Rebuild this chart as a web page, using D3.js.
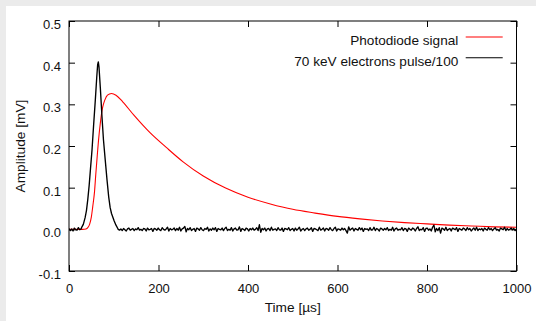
<!DOCTYPE html>
<html>
<head>
<meta charset="utf-8">
<script src="https://cdn.jsdelivr.net/npm/d3@7"></script>
<style>
  html, body { margin: 0; padding: 0; background: #ebebeb; }
  svg { display: block; }
  text { font-family: "Liberation Sans", Arial, Helvetica, sans-serif; fill: #111; }
</style>
</head>
<body>
<svg id="chart" width="536" height="321"></svg>
<script>
// ---------- data ----------
const xTicks = [0, 200, 400, 600, 800, 1000];
const yTicks = [-0.1, 0.0, 0.1, 0.2, 0.3, 0.4, 0.5];
const yTickLabels = ["-0.1", "0.0", "0.1", "0.2", "0.3", "0.4", "0.5"];
const seriesNames = ["Photodiode signal", "70 keV electrons pulse/100"];
const seriesColors = ["#ff0000", "#000000"];

// Photodiode signal (time in µs, amplitude in mV)
const redTime = [0, 30, 38, 42, 46, 50, 53, 57, 60, 63, 66, 70, 75, 80, 86, 95, 105, 120, 145, 181, 218, 255, 300, 350, 400, 450, 500, 550, 600, 650, 700, 750, 800, 850, 900, 950, 1000];
const redValue = [0, 0, 0.001, 0.004, 0.012, 0.03, 0.054, 0.09, 0.134, 0.175, 0.214, 0.255, 0.292, 0.31, 0.322, 0.326, 0.322, 0.306, 0.274, 0.232, 0.196, 0.162, 0.128, 0.099, 0.077, 0.061, 0.048, 0.039, 0.031, 0.025, 0.02, 0.016, 0.013, 0.01, 0.008, 0.006, 0.005];

// Electron pulse /100: pre-trigger noise (0..27 µs), pulse, post-pulse noise (110..1000 µs); noise in 0.001 mV
const preNoise = [2, -3, 1, -4, 3, -1, -2, 4, -1, 1];
const pulseTime = [28, 32, 36, 39, 42, 45, 48, 51.4, 55, 58.8, 62, 64, 65.5, 67, 70, 73.7, 77, 81, 85, 88.7, 92, 95, 97.6, 101, 105, 109];
const pulseValue = [0.004, 0.012, 0.028, 0.045, 0.072, 0.105, 0.145, 0.19, 0.25, 0.31, 0.365, 0.395, 0.402, 0.39, 0.34, 0.27, 0.215, 0.166, 0.118, 0.078, 0.052, 0.038, 0.03, 0.02, 0.01, 0.002];
const postNoise = [
  0,-2,1,-3,2,-1,-4,1,3,-2,0,2,-3,1,-1,4,-2,0,-3,2,
  1,-4,3,-1,0,2,-5,2,1,-2,3,-1,-3,4,0,-2,1,5,-4,2,
  -1,0,3,-3,2,-2,5,-4,1,3,7,-6,2,-1,4,-3,0,2,-5,3,
  1,-2,4,-1,-3,2,0,5,-4,1,-2,3,-1,4,-5,2,0,-1,3,-3,
  2,5,-3,0,-2,4,-4,1,3,-2,-1,6,-5,2,0,-3,3,1,-4,2,
  -1,3,-2,0,4,-3,11,-7,2,-1,3,-4,1,2,-3,5,-2,0,1,-3,
  4,-1,-2,3,-5,2,1,-1,4,-3,0,2,-4,3,-2,1,5,-4,0,2,
  -3,1,3,-2,0,4,-5,2,1,-1,-3,5,-2,0,3,-4,2,1,-2,4,
  -1,-3,2,5,-4,1,0,-2,3,-1,2,-3,-9,6,-2,1,3,-4,2,0,
  -2,4,-1,3,-5,2,0,1,-3,4,-2,-1,5,-3,2,0,-4,3,1,-2,
  2,-1,4,-3,0,-2,5,-4,1,3,-2,0,-1,4,-3,2,1,-5,3,0,
  -2,3,1,-4,2,6,-3,0,-1,4,-5,2,3,-2,1,-4,5,10,-6,2,
  -3,4,-9,3,1,-2,5,-3,0,2,-4,3,1,-1,4,-5,2,0,-2,3,
  1,-3,4,-1,2,-4,0,3,-2,5,-3,1,-1,2,-4,3,0,-2,4,-1,
  2,-3,1,4,-2,0,-4,3,1,-1,5,-3,2,-2,0,3,-1,2,-3,1
];

// ---------- build series ----------
const redData = redTime.map((t, i) => ({ t, v: redValue[i] }));
const preStep = 27 / (preNoise.length - 1);
const postStep = (1000 - 110) / (postNoise.length - 1);
const blackData = []
  .concat(preNoise.map((v, i) => ({ t: i * preStep, v: v / 1000 })))
  .concat(pulseTime.map((t, i) => ({ t, v: pulseValue[i] })))
  .concat(postNoise.map((v, i) => ({ t: 110 + i * postStep, v: v / 1000 })));

// ---------- layout ----------
const svg = d3.select("#chart");
const L = 69, R = 516.5, T = 21, B = 271;
const x = d3.scaleLinear().domain([0, 1000]).range([L, R]);
const y = d3.scaleLinear().domain([-0.1, 0.5]).range([B, T]);

svg.append("rect").attr("x", 6).attr("y", 6).attr("width", 530).attr("height", 315).attr("fill", "#ffffff");

svg.append("clipPath").attr("id", "plotclip")
  .append("rect").attr("x", L).attr("y", T).attr("width", R - L).attr("height", B - T);

// axes (gnuplot style: inward, mirrored ticks)
const tickLen = 6;
const gx = svg.append("g").attr("transform", `translate(0,${B})`)
  .call(d3.axisBottom(x).tickValues(xTicks).tickSize(-tickLen).tickSizeOuter(0).tickPadding(13).tickFormat(d3.format("d")));
const gxTop = svg.append("g").attr("transform", `translate(0,${T})`)
  .call(d3.axisTop(x).tickValues(xTicks).tickSize(-tickLen).tickSizeOuter(0).tickFormat(""));
const gy = svg.append("g").attr("transform", `translate(${L},0)`)
  .call(d3.axisLeft(y).tickValues(yTicks).tickSize(-tickLen).tickSizeOuter(0).tickPadding(8)
    .tickFormat((d, i) => yTickLabels[i]));
const gyR = svg.append("g").attr("transform", `translate(${R},0)`)
  .call(d3.axisRight(y).tickValues(yTicks).tickSize(-tickLen).tickSizeOuter(0).tickFormat(""));

[gx, gxTop, gy, gyR].forEach(g => {
  g.select(".domain").remove();
  g.selectAll("line").attr("stroke", "#000").attr("stroke-width", 1);
  g.selectAll("text").attr("font-size", "13px").attr("fill", "#111")
    .attr("font-family", '"Liberation Sans", Arial, Helvetica, sans-serif');
});
gy.selectAll("text").attr("dy", "0.57em");

// curves
const plot = svg.append("g").attr("clip-path", "url(#plotclip)");
plot.append("path").datum(redData)
  .attr("d", d3.line().x(d => x(d.t)).y(d => y(d.v)).curve(d3.curveMonotoneX))
  .attr("fill", "none").attr("stroke", seriesColors[0]).attr("stroke-width", 1.1);
plot.append("path").datum(blackData)
  .attr("d", d3.line().x(d => x(d.t)).y(d => y(d.v)))
  .attr("fill", "none").attr("stroke", seriesColors[1]).attr("stroke-width", 1.35)
  .attr("stroke-linejoin", "round");

// frame
svg.append("rect").attr("x", L).attr("y", T).attr("width", R - L).attr("height", B - T)
  .attr("fill", "none").attr("stroke", "#000").attr("stroke-width", 1);

// legend
const leg = svg.append("g");
seriesNames.forEach((name, i) => {
  const base = 45 + i * 20.7;
  leg.append("text").attr("x", 458.3).attr("y", base).attr("text-anchor", "end")
    .attr("font-size", "13.6px").text(name);
  leg.append("line").attr("x1", 465.7).attr("x2", 502.7)
    .attr("y1", base - 8).attr("y2", base - 8)
    .attr("stroke", seriesColors[i]).attr("stroke-width", 1.1);
});

// axis titles
svg.append("text").attr("x", (L + R) / 2).attr("y", 311.5).attr("text-anchor", "middle")
  .attr("font-size", "13.7px").text("Time [µs]");
svg.append("text").attr("transform", `translate(24.5,${(T + B) / 2}) rotate(-90)`)
  .attr("text-anchor", "middle").attr("font-size", "13.7px").text("Amplitude [mV]");
</script>
</body>
</html>
